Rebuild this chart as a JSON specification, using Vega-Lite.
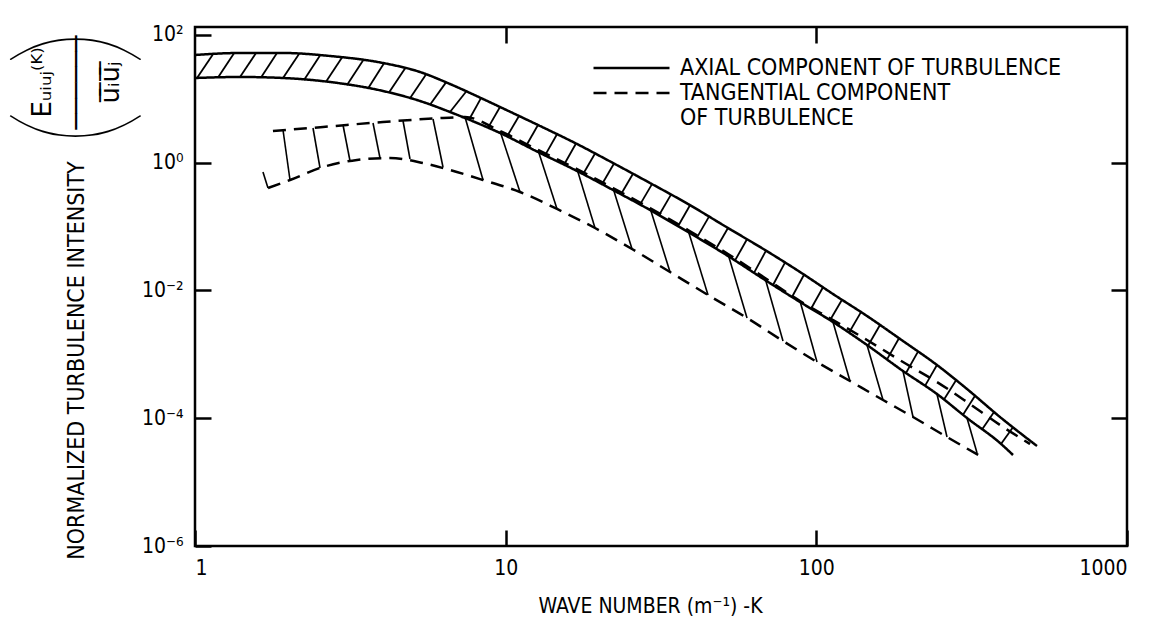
{
  "$schema": "https://vega.github.io/schema/vega-lite/v6.json",
  "width": 932,
  "height": 519,
  "autosize": {"type": "none"},
  "padding": {"left": 195, "top": 27, "right": 28, "bottom": 83},
  "background": "white",
  "config": {
    "view": {"stroke": "black", "strokeWidth": 2.5},
    "font": "Liberation Sans Narrow, DejaVu Sans Condensed, Liberation Sans, sans-serif",
    "axis": {
      "domain": false, "grid": false, "ticks": true, "tickColor": "black", "tickWidth": 2.5, "tickSize": 16, "offset": -16,
      "labelColor": "black", "titleColor": "black", "titleFontWeight": "normal",
      "labelFont": "Liberation Sans Narrow, DejaVu Sans Condensed, Liberation Sans, sans-serif",
      "titleFont": "Liberation Sans Narrow, DejaVu Sans Condensed, Liberation Sans, sans-serif"
    }
  },
  "datasets": {
    "curves": [
      {"c": "AXIAL COMPONENT OF TURBULENCE", "b": "upper", "k": 1.000, "E": 48.30},
      {"c": "AXIAL COMPONENT OF TURBULENCE", "b": "upper", "k": 1.396, "E": 51.90},
      {"c": "AXIAL COMPONENT OF TURBULENCE", "b": "upper", "k": 1.920, "E": 51.90},
      {"c": "AXIAL COMPONENT OF TURBULENCE", "b": "upper", "k": 2.720, "E": 46.59},
      {"c": "AXIAL COMPONENT OF TURBULENCE", "b": "upper", "k": 4.029, "E": 36.20},
      {"c": "AXIAL COMPONENT OF TURBULENCE", "b": "upper", "k": 5.300, "E": 26.17},
      {"c": "AXIAL COMPONENT OF TURBULENCE", "b": "upper", "k": 6.619, "E": 16.98},
      {"c": "AXIAL COMPONENT OF TURBULENCE", "b": "upper", "k": 8.455, "E": 9.89},
      {"c": "AXIAL COMPONENT OF TURBULENCE", "b": "upper", "k": 9.589, "E": 7.416},
      {"c": "AXIAL COMPONENT OF TURBULENCE", "b": "upper", "k": 12.707, "E": 3.877},
      {"c": "AXIAL COMPONENT OF TURBULENCE", "b": "upper", "k": 16.968, "E": 1.955},
      {"c": "AXIAL COMPONENT OF TURBULENCE", "b": "upper", "k": 22.157, "E": 0.9856},
      {"c": "AXIAL COMPONENT OF TURBULENCE", "b": "upper", "k": 29.149, "E": 0.4795},
      {"c": "AXIAL COMPONENT OF TURBULENCE", "b": "upper", "k": 38.63, "E": 0.2250},
      {"c": "AXIAL COMPONENT OF TURBULENCE", "b": "upper", "k": 51.96, "E": 0.09473},
      {"c": "AXIAL COMPONENT OF TURBULENCE", "b": "upper", "k": 68.36, "E": 0.04287},
      {"c": "AXIAL COMPONENT OF TURBULENCE", "b": "upper", "k": 88.60, "E": 0.01940},
      {"c": "AXIAL COMPONENT OF TURBULENCE", "b": "upper", "k": 113.13, "E": 0.008785},
      {"c": "AXIAL COMPONENT OF TURBULENCE", "b": "upper", "k": 145.58, "E": 0.003974},
      {"c": "AXIAL COMPONENT OF TURBULENCE", "b": "upper", "k": 190.06, "E": 0.001615},
      {"c": "AXIAL COMPONENT OF TURBULENCE", "b": "upper", "k": 244.5, "E": 0.0006801},
      {"c": "AXIAL COMPONENT OF TURBULENCE", "b": "upper", "k": 305.5, "E": 0.0002864},
      {"c": "AXIAL COMPONENT OF TURBULENCE", "b": "upper", "k": 390.1, "E": 0.0001044},
      {"c": "AXIAL COMPONENT OF TURBULENCE", "b": "upper", "k": 513.2, "E": 0.00003671},
      {"c": "AXIAL COMPONENT OF TURBULENCE", "b": "lower", "k": 1.000, "E": 21.08},
      {"c": "AXIAL COMPONENT OF TURBULENCE", "b": "lower", "k": 1.396, "E": 21.86},
      {"c": "AXIAL COMPONENT OF TURBULENCE", "b": "lower", "k": 1.920, "E": 21.08},
      {"c": "AXIAL COMPONENT OF TURBULENCE", "b": "lower", "k": 2.720, "E": 18.25},
      {"c": "AXIAL COMPONENT OF TURBULENCE", "b": "lower", "k": 4.029, "E": 13.20},
      {"c": "AXIAL COMPONENT OF TURBULENCE", "b": "lower", "k": 5.300, "E": 9.204},
      {"c": "AXIAL COMPONENT OF TURBULENCE", "b": "lower", "k": 6.619, "E": 6.193},
      {"c": "AXIAL COMPONENT OF TURBULENCE", "b": "lower", "k": 7.398, "E": 4.989},
      {"c": "AXIAL COMPONENT OF TURBULENCE", "b": "lower", "k": 9.589, "E": 2.906},
      {"c": "AXIAL COMPONENT OF TURBULENCE", "b": "lower", "k": 12.707, "E": 1.465},
      {"c": "AXIAL COMPONENT OF TURBULENCE", "b": "lower", "k": 16.968, "E": 0.7388},
      {"c": "AXIAL COMPONENT OF TURBULENCE", "b": "lower", "k": 22.157, "E": 0.3725},
      {"c": "AXIAL COMPONENT OF TURBULENCE", "b": "lower", "k": 29.149, "E": 0.1812},
      {"c": "AXIAL COMPONENT OF TURBULENCE", "b": "lower", "k": 38.63, "E": 0.08200},
      {"c": "AXIAL COMPONENT OF TURBULENCE", "b": "lower", "k": 51.96, "E": 0.03453},
      {"c": "AXIAL COMPONENT OF TURBULENCE", "b": "lower", "k": 68.36, "E": 0.01455},
      {"c": "AXIAL COMPONENT OF TURBULENCE", "b": "lower", "k": 88.60, "E": 0.006583},
      {"c": "AXIAL COMPONENT OF TURBULENCE", "b": "lower", "k": 113.13, "E": 0.003201},
      {"c": "AXIAL COMPONENT OF TURBULENCE", "b": "lower", "k": 145.58, "E": 0.001398},
      {"c": "AXIAL COMPONENT OF TURBULENCE", "b": "lower", "k": 190.06, "E": 0.0005478},
      {"c": "AXIAL COMPONENT OF TURBULENCE", "b": "lower", "k": 244.5, "E": 0.0002392},
      {"c": "AXIAL COMPONENT OF TURBULENCE", "b": "lower", "k": 305.5, "E": 0.0001007},
      {"c": "AXIAL COMPONENT OF TURBULENCE", "b": "lower", "k": 390.1, "E": 0.00004090},
      {"c": "AXIAL COMPONENT OF TURBULENCE", "b": "lower", "k": 429.6, "E": 0.00002655},
      {"c": "TANGENTIAL COMPONENT", "b": "upper", "k": 1.782, "E": 3.123},
      {"c": "TANGENTIAL COMPONENT", "b": "upper", "k": 2.583, "E": 3.607},
      {"c": "TANGENTIAL COMPONENT", "b": "upper", "k": 4.029, "E": 4.319},
      {"c": "TANGENTIAL COMPONENT", "b": "upper", "k": 6.284, "E": 4.989},
      {"c": "TANGENTIAL COMPONENT", "b": "upper", "k": 7.398, "E": 5.171},
      {"c": "TANGENTIAL COMPONENT", "b": "upper", "k": 9.589, "E": 3.123},
      {"c": "TANGENTIAL COMPONENT", "b": "upper", "k": 12.707, "E": 1.575},
      {"c": "TANGENTIAL COMPONENT", "b": "upper", "k": 16.968, "E": 0.7940},
      {"c": "TANGENTIAL COMPONENT", "b": "upper", "k": 22.157, "E": 0.4004},
      {"c": "TANGENTIAL COMPONENT", "b": "upper", "k": 29.149, "E": 0.1948},
      {"c": "TANGENTIAL COMPONENT", "b": "upper", "k": 38.63, "E": 0.08814},
      {"c": "TANGENTIAL COMPONENT", "b": "upper", "k": 51.96, "E": 0.03712},
      {"c": "TANGENTIAL COMPONENT", "b": "upper", "k": 68.36, "E": 0.01564},
      {"c": "TANGENTIAL COMPONENT", "b": "upper", "k": 88.60, "E": 0.006825},
      {"c": "TANGENTIAL COMPONENT", "b": "upper", "k": 113.13, "E": 0.003441},
      {"c": "TANGENTIAL COMPONENT", "b": "upper", "k": 145.58, "E": 0.001674},
      {"c": "TANGENTIAL COMPONENT", "b": "upper", "k": 190.06, "E": 0.000757},
      {"c": "TANGENTIAL COMPONENT", "b": "upper", "k": 244.5, "E": 0.0003685},
      {"c": "TANGENTIAL COMPONENT", "b": "upper", "k": 305.5, "E": 0.0001793},
      {"c": "TANGENTIAL COMPONENT", "b": "upper", "k": 390.1, "E": 0.00007827},
      {"c": "TANGENTIAL COMPONENT", "b": "upper", "k": 487.3, "E": 0.00003945},
      {"c": "TANGENTIAL COMPONENT", "b": "lower", "k": 1.718, "E": 0.4004},
      {"c": "TANGENTIAL COMPONENT", "b": "lower", "k": 2.022, "E": 0.5341},
      {"c": "TANGENTIAL COMPONENT", "b": "lower", "k": 2.583, "E": 0.8533},
      {"c": "TANGENTIAL COMPONENT", "b": "lower", "k": 3.322, "E": 1.098},
      {"c": "TANGENTIAL COMPONENT", "b": "lower", "k": 4.243, "E": 1.180},
      {"c": "TANGENTIAL COMPONENT", "b": "lower", "k": 5.419, "E": 0.9856},
      {"c": "TANGENTIAL COMPONENT", "b": "lower", "k": 6.619, "E": 0.7660},
      {"c": "TANGENTIAL COMPONENT", "b": "lower", "k": 8.455, "E": 0.5341},
      {"c": "TANGENTIAL COMPONENT", "b": "lower", "k": 11.121, "E": 0.3466},
      {"c": "TANGENTIAL COMPONENT", "b": "lower", "k": 14.632, "E": 0.1879},
      {"c": "TANGENTIAL COMPONENT", "b": "lower", "k": 19.393, "E": 0.09473},
      {"c": "TANGENTIAL COMPONENT", "b": "lower", "k": 25.51, "E": 0.04444},
      {"c": "TANGENTIAL COMPONENT", "b": "lower", "k": 33.808, "E": 0.01940},
      {"c": "TANGENTIAL COMPONENT", "b": "lower", "k": 44.81, "E": 0.008472},
      {"c": "TANGENTIAL COMPONENT", "b": "lower", "k": 59.82, "E": 0.003700},
      {"c": "TANGENTIAL COMPONENT", "b": "lower", "k": 78.11, "E": 0.001615},
      {"c": "TANGENTIAL COMPONENT", "b": "lower", "k": 100.5, "E": 0.000757},
      {"c": "TANGENTIAL COMPONENT", "b": "lower", "k": 128.33, "E": 0.0003821},
      {"c": "TANGENTIAL COMPONENT", "b": "lower", "k": 163.91, "E": 0.0001927},
      {"c": "TANGENTIAL COMPONENT", "b": "lower", "k": 204.75, "E": 0.0001044},
      {"c": "TANGENTIAL COMPONENT", "b": "lower", "k": 263.4, "E": 0.00005078},
      {"c": "TANGENTIAL COMPONENT", "b": "lower", "k": 336.4, "E": 0.00002561}
    ],
    "axialHatch": [
      {"k": 1.0149, "E": 21.08, "k2": 1.1427, "E2": 49.71},
      {"k": 1.1859, "E": 21.47, "k2": 1.3354, "E2": 51.34},
      {"k": 1.396, "E": 21.86, "k2": 1.5718, "E2": 51.9},
      {"k": 1.6312, "E": 21.47, "k2": 1.8363, "E2": 51.9},
      {"k": 1.920, "E": 21.08, "k2": 2.1618, "E2": 50.07},
      {"k": 2.2434, "E": 19.62, "k2": 2.526, "E2": 47.59},
      {"k": 2.6404, "E": 18.45, "k2": 2.9729, "E2": 43.97},
      {"k": 3.0853, "E": 16.38, "k2": 3.4740, "E2": 39.76},
      {"k": 3.6051, "E": 14.44, "k2": 4.0588, "E2": 35.94},
      {"k": 4.2117, "E": 12.46, "k2": 4.7422, "E2": 29.80},
      {"k": 4.921, "E": 10.145, "k2": 5.5409, "E2": 24.01},
      {"k": 5.7075, "E": 8.054, "k2": 6.4260, "E2": 17.99},
      {"k": 6.619, "E": 6.193, "k2": 7.4527, "E2": 12.82},
      {"k": 7.6203, "E": 4.692, "k2": 8.3292, "E2": 10.219},
      {"k": 8.7723, "E": 3.492, "k2": 9.589, "E2": 7.416},
      {"k": 10.100, "E": 2.5617, "k2": 11.039, "E2": 5.361},
      {"k": 11.627, "E": 1.8189, "k2": 12.707, "E2": 3.877},
      {"k": 13.384, "E": 1.2963, "k2": 14.632, "E2": 2.7728},
      {"k": 15.410, "E": 0.9271, "k2": 16.843, "E2": 1.9903},
      {"k": 17.739, "E": 0.6583, "k2": 19.393, "E2": 1.3880},
      {"k": 20.420, "E": 0.4591, "k2": 22.321, "E2": 0.9681},
      {"k": 23.509, "E": 0.3190, "k2": 25.696, "E2": 0.6680},
      {"k": 27.063, "E": 0.2202, "k2": 29.585, "E2": 0.4608},
      {"k": 31.158, "E": 0.1502, "k2": 34.057, "E2": 0.3157},
      {"k": 35.868, "E": 0.1011, "k2": 39.208, "E2": 0.2154},
      {"k": 41.294, "E": 0.06753, "k2": 45.140, "E2": 0.1429},
      {"k": 47.543, "E": 0.04477, "k2": 51.96, "E2": 0.09474},
      {"k": 54.727, "E": 0.02937, "k2": 59.82, "E2": 0.06306},
      {"k": 63.007, "E": 0.01878, "k2": 68.87, "E2": 0.04195},
      {"k": 72.535, "E": 0.01215, "k2": 79.27, "E2": 0.02723},
      {"k": 83.50, "E": 0.007883, "k2": 91.26, "E2": 0.01760},
      {"k": 96.13, "E": 0.005171, "k2": 105.07, "E2": 0.01118},
      {"k": 110.66, "E": 0.003417, "k2": 120.95, "E2": 0.007125},
      {"k": 127.39, "E": 0.002170, "k2": 139.24, "E2": 0.004575},
      {"k": 146.66, "E": 0.001363, "k2": 160.31, "E2": 0.002874},
      {"k": 168.85, "E": 0.0008321, "k2": 184.55, "E2": 0.001786},
      {"k": 194.34, "E": 0.0005097, "k2": 212.44, "E2": 0.001102},
      {"k": 223.79, "E": 0.0003201, "k2": 244.5, "E2": 0.0006801},
      {"k": 257.60, "E": 0.0001955, "k2": 281.6, "E2": 0.0003933},
      {"k": 296.6, "E": 0.0001130, "k2": 324.2, "E2": 0.0002241},
      {"k": 341.4, "E": 0.00006679, "k2": 373.2, "E2": 0.0001255},
      {"k": 393.0, "E": 0.00003947, "k2": 429.6, "E2": 0.00007233}
    ],
    "tangHatch": [
      {"k": 1.655, "E": 0.7128, "k2": 1.718, "E2": 0.4004},
      {"k": 1.920, "E": 3.237, "k2": 2.022, "E2": 0.5341},
      {"k": 2.398, "E": 3.479, "k2": 2.526, "E2": 0.8230},
      {"k": 2.995, "E": 3.877, "k2": 3.155, "E2": 1.059},
      {"k": 3.741, "E": 4.166, "k2": 3.940, "E2": 1.180},
      {"k": 4.674, "E": 4.477, "k2": 4.921, "E2": 1.138},
      {"k": 5.837, "E": 4.812, "k2": 6.284, "E2": 0.8533},
      {"k": 7.398, "E": 5.171, "k2": 8.455, "E2": 0.5341},
      {"k": 9.589, "E": 3.123, "k2": 11.121, "E2": 0.3466},
      {"k": 12.707, "E": 1.575, "k2": 14.632, "E2": 0.1879},
      {"k": 16.968, "E": 0.7940, "k2": 19.393, "E2": 0.09473},
      {"k": 22.157, "E": 0.4004, "k2": 25.51, "E2": 0.04444},
      {"k": 29.149, "E": 0.1948, "k2": 33.808, "E2": 0.01940},
      {"k": 38.63, "E": 0.08814, "k2": 44.81, "E2": 0.008472},
      {"k": 51.96, "E": 0.03712, "k2": 59.82, "E2": 0.003700},
      {"k": 68.36, "E": 0.01564, "k2": 78.11, "E2": 0.001615},
      {"k": 88.60, "E": 0.006825, "k2": 100.5, "E2": 0.000757},
      {"k": 113.13, "E": 0.003201, "k2": 128.33, "E2": 0.0003821},
      {"k": 145.58, "E": 0.001398, "k2": 163.91, "E2": 0.0001927},
      {"k": 190.06, "E": 0.0005478, "k2": 204.75, "E2": 0.0001044},
      {"k": 244.5, "E": 0.0002392, "k2": 263.4, "E2": 0.00005078},
      {"k": 305.5, "E": 0.0001007, "k2": 329.1, "E2": 0.00002853}
    ]
  },
  "layer": [
    {
      "data": {"name": "axialHatch"},
      "mark": {"type": "rule", "color": "black", "strokeWidth": 1.8},
      "encoding": {
        "x": {"field": "k", "type": "quantitative", "scale": {"type": "log", "domain": [1, 1000], "nice": false}, "axis": null},
        "y": {"field": "E", "type": "quantitative", "scale": {"type": "log", "domain": [0.000001, 132.4], "nice": false}, "axis": null},
        "x2": {"field": "k2"},
        "y2": {"field": "E2"}
      }
    },
    {
      "data": {"name": "tangHatch"},
      "mark": {"type": "rule", "color": "black", "strokeWidth": 1.6},
      "encoding": {
        "x": {"field": "k", "type": "quantitative", "scale": {"type": "log", "domain": [1, 1000], "nice": false},
          "axis": {"orient": "top", "values": [10, 100], "labels": false,
            "title": ["Eᵤᵢᵤⱼ⁽ᴷ⁾", "──────", "u̅ᵢ̅u̅ⱼ̅"],
            "titleFont": "DejaVu Sans", "titleFontSize": 26, "titleLineHeight": 34, "titleAngle": -90,
            "titleX": -153, "titleY": 39, "titleAlign": "center", "titleBaseline": "middle"}},
        "y": {"field": "E", "type": "quantitative", "scale": {"type": "log", "domain": [0.000001, 132.4], "nice": false},
          "axis": {"orient": "right", "values": [0.0001, 0.01, 1], "labels": false,
            "title": "(      )", "titleFont": "Lato", "titleFontWeight": 100, "titleFontSize": 150, "titleAngle": -90,
            "titleX": -1034, "titleY": 60, "titleAlign": "center", "titleBaseline": "middle"}},
        "x2": {"field": "k2"},
        "y2": {"field": "E2"}
      }
    },
    {
      "data": {"name": "curves"},
      "mark": {"type": "line", "color": "black", "strokeWidth": 2.5, "interpolate": "monotone"},
      "encoding": {
        "x": {"field": "k", "type": "quantitative", "scale": {"type": "log", "domain": [1, 1000], "nice": false},
          "axis": {"orient": "bottom", "values": [1, 10, 100, 1000], "labelExpr": "format(datum.value, 'd')",
            "labelFontSize": 21, "labelPadding": 11,
            "title": "WAVE NUMBER (m⁻¹) -K", "titleFontSize": 21, "titleX": 455, "titleY": 76,
            "titleAlign": "center", "titleBaseline": "middle"}},
        "y": {"field": "E", "type": "quantitative", "scale": {"type": "log", "domain": [0.000001, 132.4], "nice": false},
          "axis": {"orient": "left", "values": [0.000001, 0.0001, 0.01, 1, 100], "ticks": true,
            "labelExpr": "datum.value > 10 ? '10²' : datum.value > 0.1 ? '10⁰' : datum.value > 0.001 ? '10⁻²' : datum.value > 0.00001 ? '10⁻⁴' : '10⁻⁶'",
            "labelFontSize": 21, "labelPadding": 12,
            "title": "NORMALIZED TURBULENCE INTENSITY", "titleFontSize": 23, "titleAngle": -90,
            "titleX": -135, "titleY": 333, "titleAlign": "center", "titleBaseline": "middle"}},
        "detail": {"field": "b"},
        "strokeDash": {"field": "c", "type": "nominal",
          "scale": {"domain": ["AXIAL COMPONENT OF TURBULENCE", "TANGENTIAL COMPONENT", "OF TURBULENCE"], "range": [[1, 0], [13, 8], [0, 1000]]},
          "legend": {"orient": "none", "legendX": 397, "legendY": 29, "title": null, "padding": 0,
            "symbolType": "stroke", "symbolSize": 5776, "symbolStrokeWidth": 2.5, "symbolStrokeColor": "black",
            "clipHeight": 24, "labelFontSize": 23, "labelOffset": 9, "rowPadding": 1, "labelLimit": 700, "labelColor": "black"}}
      }
    }
  ],
  "resolve": {"axis": {"x": "independent", "y": "independent"}}
}
